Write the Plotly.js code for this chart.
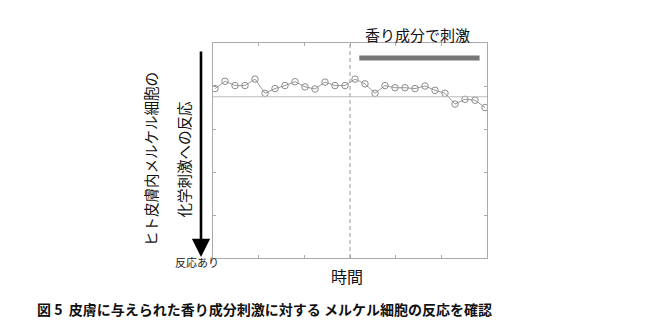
<!DOCTYPE html>
<html>
<head>
<meta charset="utf-8">
<script src="https://cdn.plot.ly/plotly-3.0.1.min.js"></script>
<style>html,body{margin:0;padding:0;background:#fff;}#chart{width:650px;height:330px;}</style>
</head>
<body>
<div id="chart"></div>
<script>
// Data
const timePoints = [1,2,3,4,5,6,7,8,9,10,11,12,13,14,15,16,17,18,19,20,21,22,23,24,25,26,27,28];
const response = [1.06,0.89,0.99,0.99,0.84,1.17,1.06,0.99,0.90,1.02,1.07,0.91,0.99,0.99,0.84,0.95,1.17,0.99,1.04,1.04,1.06,1.00,1.10,1.17,1.42,1.31,1.33,1.50];
const baselineLevel = 1.25;
const stimulusOnset = 14.5;
const stimulusPeriod = [15.43, 27.46];
const stimulusLevel = 0.35;

const FONT = '"Noto Sans CJK JP", "Noto Sans", sans-serif';

const trace = {
  x: timePoints, y: response, type: 'scatter', mode: 'lines+markers',
  line: {color: '#9a9a9a', width: 1},
  marker: {symbol: 'circle-open', size: 6.5, color: '#8c8c8c', line: {width: 1, color: '#8c8c8c'}},
  hoverinfo: 'skip', showlegend: false
};

const layout = {
  width: 650, height: 330,
  margin: {l: 213, r: 163, t: 43, b: 72},
  paper_bgcolor: '#fff', plot_bgcolor: '#fff',
  font: {family: FONT, color: '#222'},
  xaxis: {
    range: [0.8, 28.2], tick0: 0.8, dtick: 27.4/6, tickmode: 'linear',
    ticks: 'inside', ticklen: 3, tickcolor: '#aaa', showticklabels: false,
    showgrid: false, zeroline: false, showline: true, linecolor: '#aaa', linewidth: 1, mirror: 'ticks'
  },
  yaxis: {
    range: [5, 0], tick0: 0, dtick: 1, tickmode: 'linear',
    ticks: 'inside', ticklen: 3, tickcolor: '#aaa', showticklabels: false,
    showgrid: false, zeroline: false, showline: true, linecolor: '#aaa', linewidth: 1, mirror: 'ticks'
  },
  shapes: [
    {type: 'line', xref: 'paper', x0: 0, x1: 1, yref: 'y', y0: baselineLevel, y1: baselineLevel, line: {color: '#bdbdbd', width: 1}},
    {type: 'line', xref: 'x', x0: stimulusOnset, x1: stimulusOnset, yref: 'paper', y0: 0, y1: 1, line: {color: '#9a9a9a', width: 1, dash: '4px,3px'}},
    {type: 'line', xref: 'x', x0: stimulusPeriod[0], x1: stimulusPeriod[1], yref: 'y', y0: stimulusLevel, y1: stimulusLevel, line: {color: '#777', width: 5}}
  ],
  annotations: [
    {text: '香り成分で刺激', xref: 'paper', yref: 'paper', x: (417.7-213)/274, y: (330-72-34)/215, showarrow: false, xanchor: 'center', yanchor: 'middle', font: {size: 15, color: '#111', family: FONT}},
    {text: '', xref: 'paper', yref: 'paper', x: (201-213)/274, y: (330-72-257)/215, ax: 0, ay: -207, showarrow: true, arrowhead: 2, arrowsize: 1.4, arrowwidth: 2.6, arrowcolor: '#000'},
    {text: '反応あり', xref: 'paper', yref: 'paper', x: (197-213)/274, y: (330-72-262)/215, showarrow: false, xanchor: 'center', yanchor: 'middle', font: {size: 11, color: '#222', family: FONT}},
    {text: 'ヒト皮膚内メルケル細胞の', xref: 'paper', yref: 'paper', x: (150-213)/274, y: (330-72-159)/215, textangle: -90, showarrow: false, xanchor: 'center', yanchor: 'middle', font: {size: 14.5, color: '#111', family: FONT}},
    {text: '化学刺激への反応', xref: 'paper', yref: 'paper', x: (182.5-213)/274, y: (330-72-160)/215, textangle: -90, showarrow: false, xanchor: 'center', yanchor: 'middle', font: {size: 14.5, color: '#111', family: FONT}},
    {text: '時間', xref: 'paper', yref: 'paper', x: (347-213)/274, y: (330-72-276)/215, showarrow: false, xanchor: 'center', yanchor: 'middle', font: {size: 16, color: '#111', family: FONT}},
    {text: '<b>図 5  皮膚に与えられた香り成分刺激に対する メルケル細胞の反応を確認</b>', xref: 'paper', yref: 'paper', x: (264.5-213)/274, y: (330-72-309)/215, showarrow: false, xanchor: 'center', yanchor: 'middle', font: {size: 14, color: '#111', family: FONT}}
  ]
};

Plotly.newPlot('chart', [trace], layout, {displayModeBar: false, staticPlot: true});
</script>
</body>
</html>
